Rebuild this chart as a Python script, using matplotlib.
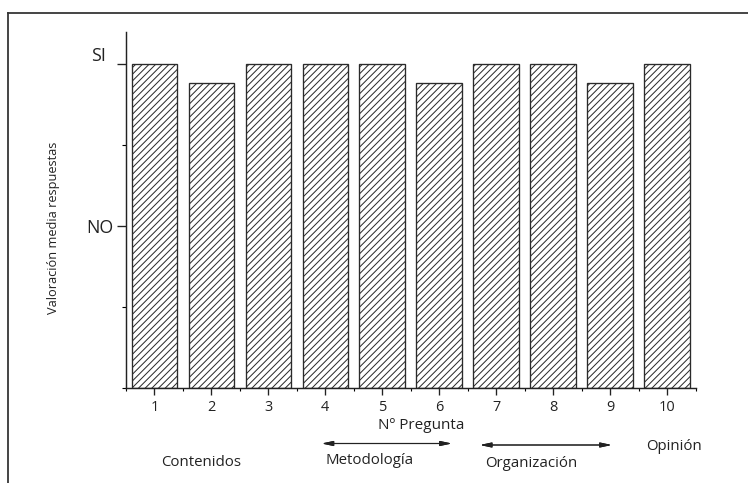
import numpy as np
import matplotlib
matplotlib.use("Agg")
import matplotlib.pyplot as plt
import matplotlib.transforms as mtransforms
from matplotlib.lines import Line2D

# data
preguntas = [1, 2, 3, 4, 5, 6, 7, 8, 9, 10]
valoracion = [2.0, 1.88, 2.0, 2.0, 2.0, 1.88, 2.0, 2.0, 1.88, 2.0]
y_ticks = [1, 2]
y_labels = ["NO", "SI"]
bloques = ["Contenidos", "Metodología", "Organización", "Opinión"]

W, H, DPI = 748, 483, 80
plt.rcParams['font.family'] = ['Open Sans', 'DejaVu Sans']
plt.rcParams['hatch.linewidth'] = 0.9

fig = plt.figure(figsize=(W / DPI, H / DPI), dpi=DPI)


def fx(px):
    return px / W


def fy(py):
    # pixel measured from the top
    return 1 - py / H


ax = fig.add_axes([fx(126), fy(387.7), fx(695.5) - fx(126), fy(31.7) - fy(387.7)])

ax.bar(preguntas, valoracion, width=0.8, facecolor="white", edgecolor="#2a2a2a",
       linewidth=1.2, hatch="////")

ax.set_xlim(0.5, 10.5)
ax.set_ylim(0, 2.2)
for s in ["top", "right"]:
    ax.spines[s].set_visible(False)
for s in ["left", "bottom"]:
    ax.spines[s].set_linewidth(1.3)
    ax.spines[s].set_color("#222222")

ax.set_xticks(preguntas)
ax.set_xticks(np.arange(0.5, 11, 1), minor=True)
ax.set_yticks(y_ticks)
ax.set_yticklabels(y_labels)
ax.set_yticks([0, 0.5, 1.5], minor=True)
ax.tick_params(axis="x", which="major", length=6.5, width=1.2, labelsize=13, pad=5)
ax.tick_params(axis="x", which="minor", length=3, width=1.0)
ax.tick_params(axis="y", which="major", length=8, width=1.2, labelsize=16, pad=3)
ax.tick_params(axis="y", which="minor", length=3.5, width=1.0)
ax.tick_params(colors="#222222")

# the SI label sits above and left of its tick in the original
off = mtransforms.ScaledTranslation(-8 / DPI, 10 / DPI, fig.dpi_scale_trans)
for lab in ax.get_yticklabels():
    if lab.get_text() == "SI":
        lab.set_transform(lab.get_transform() + off)

fig.text(fx(54), fy(228), "Valoración media respuestas", rotation=90,
         ha="center", va="center", fontsize=11.5, color="#222222")
fig.text(fx(421), fy(429.3), "Nº Pregunta", ha="center", va="baseline",
         fontsize=13.7, color="#222222")

# block labels under the axis
fig.text(fx(201), fy(466), bloques[0], ha="center", va="baseline", fontsize=13.5, color="#222222")
fig.text(fx(370), fy(464.5), bloques[1], ha="center", va="baseline", fontsize=13.5, color="#222222")
fig.text(fx(531.5), fy(467), bloques[2], ha="center", va="baseline", fontsize=13.5, color="#222222")
fig.text(fx(674), fy(450), bloques[3], ha="center", va="baseline", fontsize=13.5, color="#222222")

arrow = dict(arrowstyle="<|-|>,head_length=0.7,head_width=0.15", color="#222222",
             lw=1.0, mutation_scale=12, shrinkA=0, shrinkB=0)
fig.add_artist(plt.annotate("", xy=(fx(451.7), fy(443.5)), xytext=(fx(321.7), fy(443.5)),
                            xycoords="figure fraction", arrowprops=arrow))
fig.add_artist(plt.annotate("", xy=(fx(611.7), fy(445)), xytext=(fx(480), fy(445)),
                            xycoords="figure fraction", arrowprops=arrow))

# frame: only top and left edges are visible in the picture
fig.add_artist(Line2D([fx(8), 1.0], [fy(13), fy(13)], transform=fig.transFigure,
                      color="#333333", lw=1.6))
fig.add_artist(Line2D([fx(8), fx(8)], [fy(13), 0.0], transform=fig.transFigure,
                      color="#333333", lw=1.6))

fig.savefig("out.png", dpi=DPI, facecolor="white")
